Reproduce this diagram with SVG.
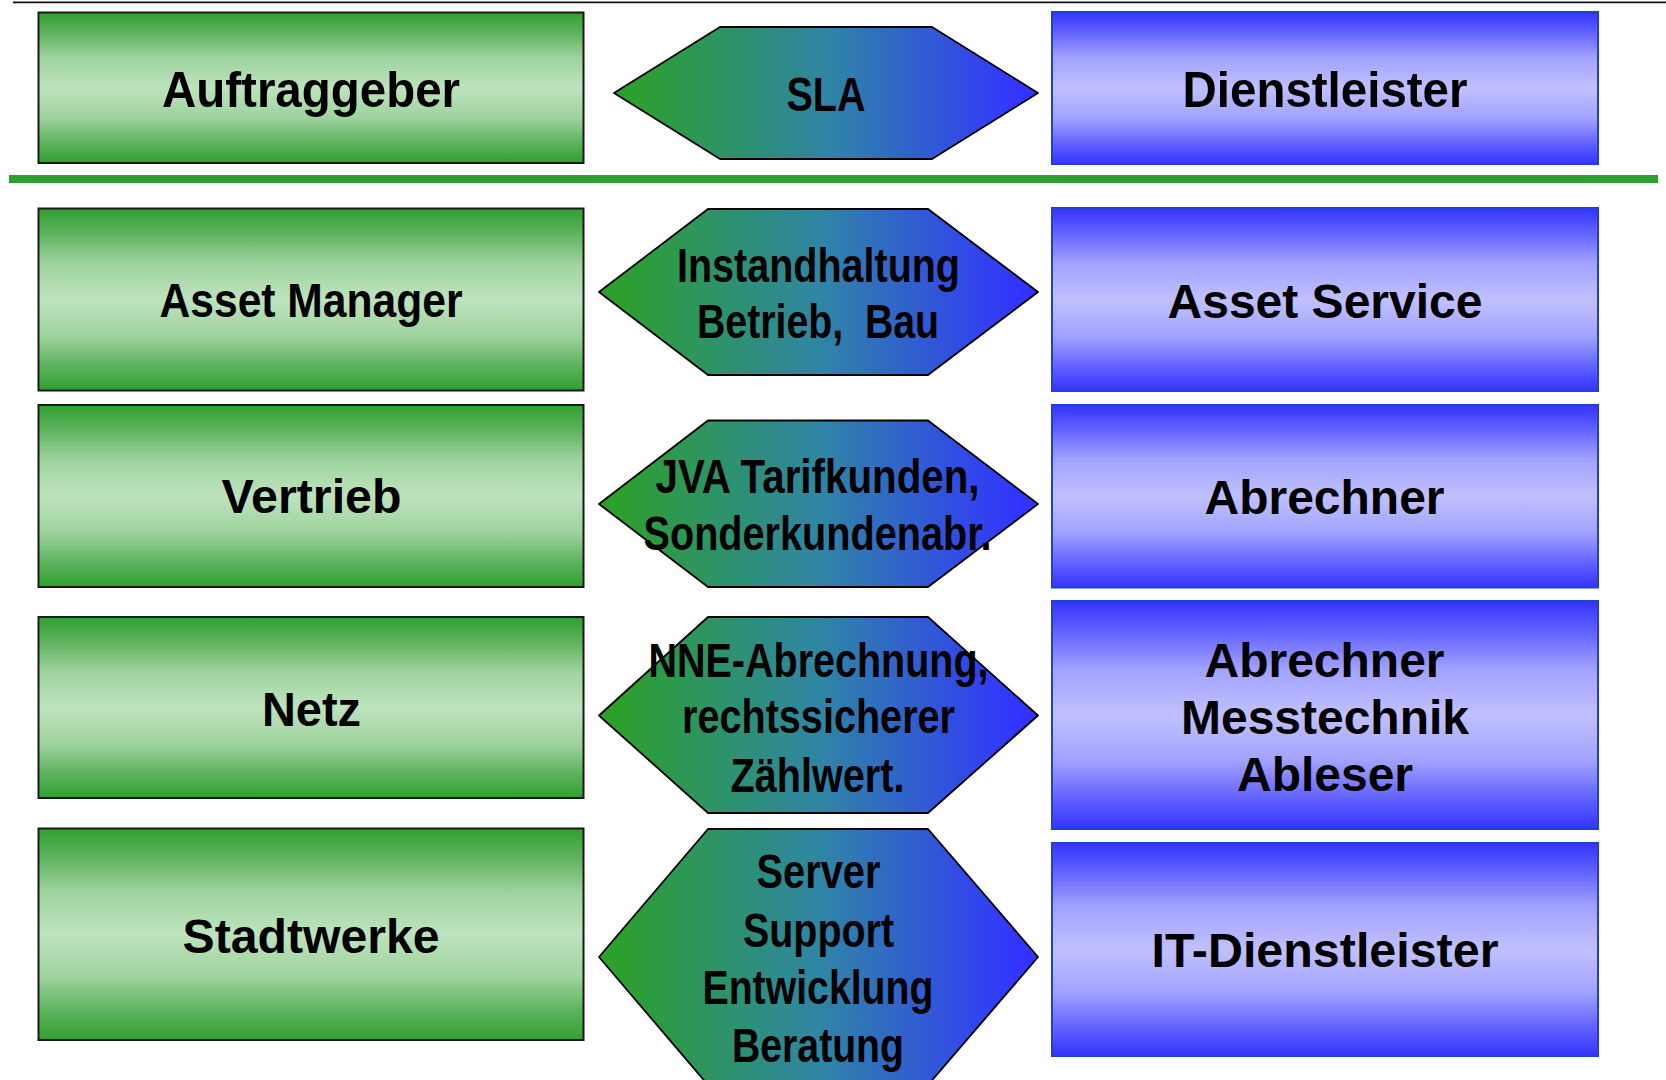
<svg xmlns="http://www.w3.org/2000/svg" width="1666" height="1080" viewBox="0 0 1666 1080">
  <defs>
    <linearGradient id="gGreen" x1="0" y1="0" x2="0" y2="1">
      <stop offset="0" stop-color="#2fa02f"/>
      <stop offset="0.14" stop-color="#5fb35f"/>
      <stop offset="0.3" stop-color="#9ed39e"/>
      <stop offset="0.5" stop-color="#bee3be"/>
      <stop offset="0.7" stop-color="#9ed39e"/>
      <stop offset="0.86" stop-color="#5fb35f"/>
      <stop offset="1" stop-color="#2fa02f"/>
    </linearGradient>
    <linearGradient id="gBlue" x1="0" y1="0" x2="0" y2="1">
      <stop offset="0" stop-color="#3333ff"/>
      <stop offset="0.14" stop-color="#6464ff"/>
      <stop offset="0.3" stop-color="#a2a2ff"/>
      <stop offset="0.5" stop-color="#c0c0ff"/>
      <stop offset="0.7" stop-color="#a2a2ff"/>
      <stop offset="0.86" stop-color="#6464ff"/>
      <stop offset="1" stop-color="#3333ff"/>
    </linearGradient>
    <linearGradient id="gHex" x1="0" y1="0" x2="1" y2="0">
      <stop offset="0.04" stop-color="#2ca02c"/>
      <stop offset="0.5" stop-color="#2f86a4"/>
      <stop offset="0.96" stop-color="#3333ff"/>
    </linearGradient>
  </defs>
  <style>
    .gbox { fill: url(#gGreen); stroke: #1a1a1a; stroke-width: 2; }
    .bbox { fill: url(#gBlue); stroke: #1f3fd6; stroke-width: 2; }
    .hex { fill: url(#gHex); stroke: #000; stroke-width: 1.8; stroke-linejoin: round; }
    text { font-family: "Liberation Sans", Arial, sans-serif; font-weight: bold; fill: #000; text-anchor: middle; font-size: 47.5px; white-space: pre; }
    .big { font-size: 50px; }
  </style>
  <rect width="1666" height="1080" fill="#ffffff"/>

  <g id="separators">
    <line x1="13" y1="2.3" x2="1666" y2="2.3" stroke="#111" stroke-width="1.8"/>
    <rect x="9" y="175" width="1649" height="8" fill="#2ca02c"/>
  </g>

  <g id="auftraggeber">
    <rect class="gbox" x="38.5" y="12.5" width="545" height="150.5"/>
    <text class="big" x="311" y="106.7" textLength="298" lengthAdjust="spacingAndGlyphs">Auftraggeber</text>
  </g>
  <g id="sla">
    <polygon class="hex" points="614,93 720,27 932,27 1038,93 932,159 720,159"/>
    <text x="826" y="111" textLength="79" lengthAdjust="spacingAndGlyphs">SLA</text>
  </g>
  <g id="dienstleister">
    <rect class="bbox" x="1052" y="12" width="546" height="152"/>
    <text class="big" x="1325" y="106.7" textLength="285" lengthAdjust="spacingAndGlyphs">Dienstleister</text>
  </g>

  <g id="asset-manager">
    <rect class="gbox" x="38.5" y="208.5" width="545" height="182"/>
    <text x="311" y="317.3" textLength="303" lengthAdjust="spacingAndGlyphs">Asset Manager</text>
  </g>
  <g id="instandhaltung">
    <polygon class="hex" points="599,292 708,209 928,209 1038,292 928,375 708,375"/>
    <text x="818.5" y="281.7" textLength="283" lengthAdjust="spacingAndGlyphs">Instandhaltung</text>
    <text x="818" y="338" textLength="242" lengthAdjust="spacingAndGlyphs">Betrieb,  Bau</text>
  </g>
  <g id="asset-service">
    <rect class="bbox" x="1052" y="208" width="546" height="183"/>
    <text x="1325" y="317.7" textLength="315" lengthAdjust="spacingAndGlyphs">Asset Service</text>
  </g>

  <g id="vertrieb">
    <rect class="gbox" x="38.5" y="405" width="545" height="182"/>
    <text x="311.5" y="513.3" textLength="180" lengthAdjust="spacingAndGlyphs">Vertrieb</text>
  </g>
  <g id="jva">
    <polygon class="hex" points="599,504 708,420.5 928,420.5 1038,504 928,587 708,587"/>
    <text x="817.5" y="493" textLength="324" lengthAdjust="spacingAndGlyphs">JVA Tarifkunden,</text>
    <text x="817.5" y="550" textLength="348" lengthAdjust="spacingAndGlyphs">Sonderkundenabr.</text>
  </g>
  <g id="abrechner">
    <rect class="bbox" x="1052" y="405" width="546" height="182.5"/>
    <text x="1324.5" y="514" textLength="240" lengthAdjust="spacingAndGlyphs">Abrechner</text>
  </g>

  <g id="netz">
    <rect class="gbox" x="38.5" y="617" width="545" height="181"/>
    <text x="311.5" y="726" textLength="99" lengthAdjust="spacingAndGlyphs">Netz</text>
  </g>
  <g id="nne">
    <polygon class="hex" points="599,715.5 708,617 928,617 1038,715.5 928,813 708,813"/>
    <text x="818.5" y="676.7" textLength="340" lengthAdjust="spacingAndGlyphs">NNE-Abrechnung,</text>
    <text x="818.5" y="733" textLength="273" lengthAdjust="spacingAndGlyphs">rechtssicherer</text>
    <text x="817.5" y="791.7" textLength="174" lengthAdjust="spacingAndGlyphs">Zählwert.</text>
  </g>
  <g id="abrechner-messtechnik">
    <rect class="bbox" x="1052" y="601" width="546" height="228"/>
    <text x="1324.5" y="676.7" textLength="240" lengthAdjust="spacingAndGlyphs">Abrechner</text>
    <text x="1325" y="734" textLength="288" lengthAdjust="spacingAndGlyphs">Messtechnik</text>
    <text x="1325" y="790.7" textLength="176" lengthAdjust="spacingAndGlyphs">Ableser</text>
  </g>

  <g id="stadtwerke">
    <rect class="gbox" x="38.5" y="828.5" width="545" height="211.5"/>
    <text x="311" y="952.7" textLength="257" lengthAdjust="spacingAndGlyphs">Stadtwerke</text>
  </g>
  <g id="it-leistungen">
    <polygon class="hex" points="599,957 708,829 928,829 1038,957 928,1085 708,1085"/>
    <text x="818.5" y="888" textLength="124" lengthAdjust="spacingAndGlyphs">Server</text>
    <text x="818.5" y="946.7" textLength="151" lengthAdjust="spacingAndGlyphs">Support</text>
    <text x="818" y="1004" textLength="231" lengthAdjust="spacingAndGlyphs">Entwicklung</text>
    <text x="818" y="1061.7" textLength="172" lengthAdjust="spacingAndGlyphs">Beratung</text>
  </g>
  <g id="it-dienstleister">
    <rect class="bbox" x="1052" y="843" width="546" height="213"/>
    <text x="1325" y="966.7" textLength="347" lengthAdjust="spacingAndGlyphs">IT-Dienstleister</text>
  </g>
</svg>
